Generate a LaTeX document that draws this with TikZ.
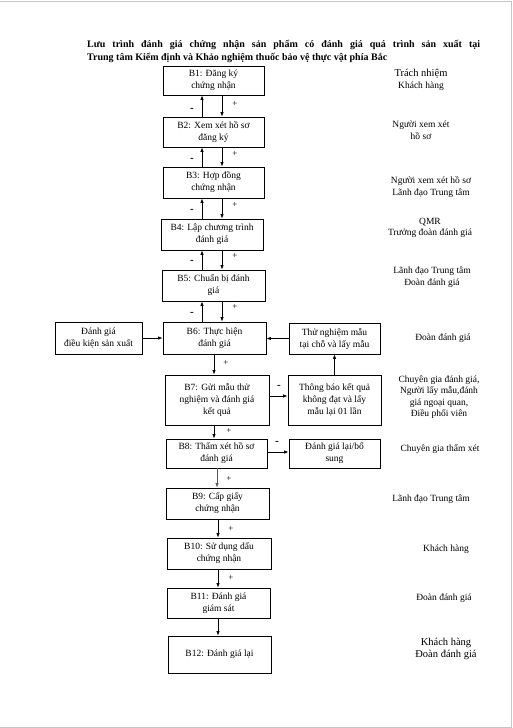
\documentclass[tikz,border=0pt]{standalone}
\usepackage{fontspec}
\setmainfont{Liberation Serif}
\usetikzlibrary{arrows.meta}
\begin{document}
\begin{tikzpicture}[x=1pt,y=-1pt,
  box/.style={draw,line width=0.8pt,align=center,inner sep=1pt,
     font=\fontsize{9.5}{12}\selectfont},
  resp/.style={align=center,inner sep=0pt,font=\fontsize{9.5}{11.5}\selectfont},
  arr/.style={line width=0.8pt,-{Latex[length=4.5pt,width=3.5pt]}},
  sgn/.style={inner sep=0pt,font=\fontsize{9}{10}\selectfont},
  msgn/.style={inner sep=0pt,font=\bfseries\fontsize{11}{12}\selectfont}]
\useasboundingbox (0,0) rectangle (513,728);
\draw[gray!45,line width=1pt] (0,1) -- (511,1) -- (511,727) -- (0,727);
% title
\node[anchor=west,inner sep=0pt,font=\bfseries\fontsize{10}{12}\selectfont] (t1) at (87,45)
  {\makebox[393pt][s]{Lưu trình đánh giá chứng nhận sản phẩm có đánh giá quá trình sản xuất tại}};
\node[anchor=west,inner sep=0pt,font=\bfseries\fontsize{10}{12}\selectfont] (t2) at (87,58)
  {Trung tâm Kiểm định và Khảo nghiệm thuốc bảo vệ thực vật phía Bắc};
% main boxes
\node[box,minimum width=101pt,minimum height=29pt] (B1) at (213.5,80.5) {B1: Đăng ký\\chứng nhận};
\node[box,minimum width=101pt,minimum height=30pt] (B2) at (213.5,132) {B2: Xem xét hồ sơ\\đăng ký};
\node[box,minimum width=101pt,minimum height=31pt] (B3) at (213.5,182.5) {B3: Hợp đồng\\chứng nhận};
\node[box,minimum width=102pt,minimum height=31pt] (B4) at (212,234.5) {B4: Lập chương trình\\đánh giá};
\node[box,minimum width=103pt,minimum height=31pt] (B5) at (213.5,285.5) {B5: Chuẩn bị đánh\\giá};
\node[box,minimum width=103pt,minimum height=32pt] (B6) at (214.5,338) {B6: Thực hiện\\đánh giá};
\node[box,minimum width=104pt,minimum height=50pt] (B7) at (217,400) {B7: Gửi mẫu thử\\nghiệm và đánh giá\\kết quả};
\node[box,minimum width=101pt,minimum height=29pt] (B8) at (216.5,453.5) {B8: Thẩm xét hồ sơ\\đánh giá};
\node[box,minimum width=103pt,minimum height=31pt] (B9) at (217.5,503.5) {B9: Cấp giấy\\chứng nhận};
\node[box,minimum width=104pt,minimum height=31pt] (B10) at (219,553.5) {B10: Sử dụng dấu\\chứng nhận};
\node[box,minimum width=103pt,minimum height=30pt] (B11) at (218.5,603) {B11: Đánh giá\\giám sát};
\node[box,minimum width=103pt,minimum height=37pt] (B12) at (219.5,654.5) {B12: Đánh giá lại};
% side boxes
\node[box,minimum width=87pt,minimum height=32pt] (L) at (98.5,338) {Đánh giá\\điều kiện sản xuất};
\node[box,minimum width=91pt,minimum height=31pt] (R) at (334.5,338.5) {Thử nghiệm mẫu\\tại chỗ và lấy mẫu};
\node[box,minimum width=93pt,minimum height=50pt] (T) at (334.5,400) {Thông báo kết quả\\không đạt và lấy\\mẫu lại 01 lần};
\node[box,minimum width=91pt,minimum height=29pt] (D) at (334.5,453.5) {Đánh giá lại/bổ\\sung};
% up/down arrows B1..B6
\foreach \a/\b in {B1/B2,B2/B3,B3/B4,B4/B5,B5/B6}{
  \draw[arr] (\a.south -| 222,0) -- (\b.north -| 222,0);
  \draw[arr] (\b.north -| 202,0) -- (\a.south -| 202,0);
}
\foreach \y in {104,154,205,256,307}{ \node[sgn] at (235,\y) {+}; }
\foreach \y in {110,160,211,262,314}{ \node[msgn] at (192,\y) {-}; }
% lower chain
\draw[arr] (B6.south -| 214,0) -- (B7.north -| 214,0);
\node[sgn] (p6) at (226,363) {+};
\draw[arr] (B7.south -| 214,0) -- (B8.north -| 214,0);
\node[sgn] (p7) at (229,431) {+};
\draw[arr,gray!70!black] (B8.south -| 217,0) -- (B9.north -| 217,0);
\node[sgn] (p8) at (229,479) {+};
\draw[arr] (B9.south -| 218,0) -- (B10.north -| 218,0);
\node[sgn] (p9) at (231,529) {+};
\draw[arr] (B10.south -| 218,0) -- (B11.north -| 218,0);
\node[sgn] (p10) at (231,578) {+};
\draw[arr] (B11.south -| 218,0) -- (B12.north -| 218,0);
% side arrows
\draw[arr] (L.east) -- (B6.west |- L.east);
\draw[arr] (R.west) -- (B6.east |- R.west);
\draw[arr] (B7.east |- 0,396) -- (T.west |- 0,396);
\node[msgn] (m7) at (279,387) {-};
\draw[arr] (T.north) -- (R.south);
\draw[arr] (B8.east |- 0,452) -- (D.west |- 0,452);
\node[msgn] (m8) at (277,443) {-};
% responsibility column
\node[resp,font=\fontsize{10.5}{12}\selectfont] (r0) at (421,74) {Trách nhiệm};
\node[resp] (r1) at (421,86) {Khách hàng};
\node[resp] (r2) at (421,130) {Người xem xét\\hồ sơ};
\node[resp] (r3) at (431,187) {Người xem xét hồ sơ\\Lãnh đạo Trung tâm};
\node[resp] (r4) at (430,228) {QMR\\Trưởng đoàn đánh giá};
\node[resp] (r5) at (432,277) {Lãnh đạo Trung tâm\\Đoàn đánh giá};
\node[resp] (r6) at (443,338) {Đoàn đánh giá};
\node[resp] (r7) at (439,397) {Chuyên gia đánh giá,\\Người lấy mẫu,đánh\\giá ngoại quan,\\Điều phối viên};
\node[resp] (r8) at (440,449) {Chuyên gia thẩm xét};
\node[resp] (r9) at (431,499) {Lãnh đạo Trung tâm};
\node[resp] (r10) at (446,549) {Khách hàng};
\node[resp] (r11) at (444,598) {Đoàn đánh giá};
\node[resp,font=\fontsize{10.5}{12}\selectfont] (r12) at (446,649) {Khách hàng\\Đoàn đánh giá};
\end{tikzpicture}
\end{document}
